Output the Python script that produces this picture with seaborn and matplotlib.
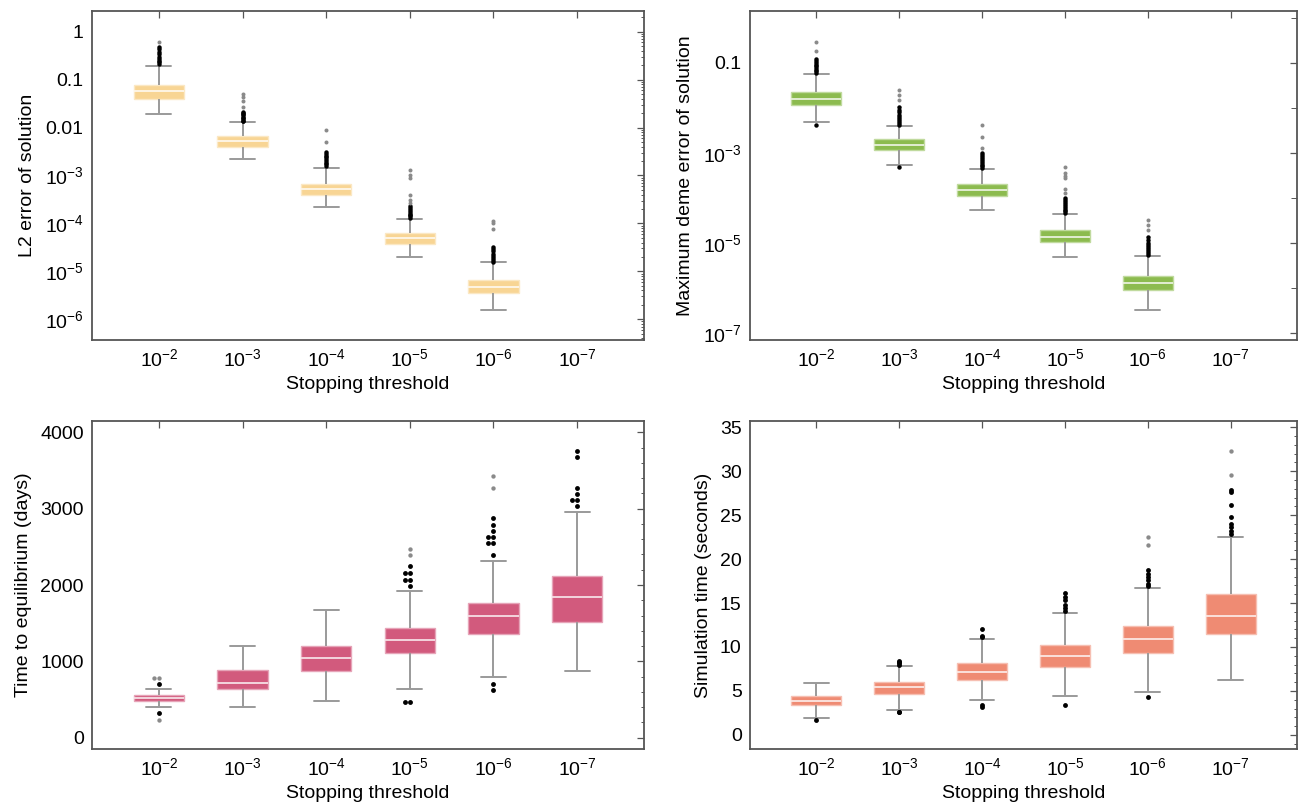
import numpy as np
import pandas as pd
import matplotlib
matplotlib.use("Agg")
import matplotlib.pyplot as plt
import matplotlib.colors as mcolors
from matplotlib.ticker import FixedLocator, FixedFormatter, MultipleLocator, NullLocator, LogLocator, NullFormatter
import seaborn as sns

# ---------------- data ----------------
thresholds = ["$10^{-2}$", "$10^{-3}$", "$10^{-4}$", "$10^{-5}$", "$10^{-6}$", "$10^{-7}$"]

# L2 error of solution (first five thresholds)
l2_wlo = [0.0191, 0.00221, 2.16e-4, 2.0e-5, 1.56e-6]
l2_q1 = [0.039, 0.00398, 3.98e-4, 3.8e-5, 3.5e-6]
l2_med = [0.057, 0.00515, 5.22e-4, 4.9e-5, 4.7e-6]
l2_q3 = [0.077, 0.00666, 6.75e-4, 6.2e-5, 6.5e-6]
l2_whi = [0.195, 0.0129, 1.46e-3, 1.25e-4, 1.54e-5]
l2_near = [
    [0.21, 0.23, 0.25, 0.27, 0.30, 0.34, 0.38, 0.43, 0.47],
    [0.0135, 0.014, 0.015, 0.016, 0.017, 0.018, 0.019, 0.020, 0.0215],
    [1.55e-3, 1.7e-3, 1.85e-3, 2.0e-3, 2.2e-3, 2.4e-3, 2.6e-3, 2.8e-3, 3.1e-3],
    [1.3e-4, 1.4e-4, 1.5e-4, 1.6e-4, 1.75e-4, 1.9e-4, 2.1e-4, 2.3e-4],
    [1.6e-5, 1.75e-5, 1.9e-5, 2.1e-5, 2.3e-5, 2.6e-5, 2.9e-5, 3.3e-5],
]
l2_far = [
    [0.62],
    [0.027, 0.035, 0.044, 0.050],
    [5.1e-3, 9.0e-3],
    [2.7e-4, 3.1e-4, 4.0e-4, 8.7e-4, 1.0e-3, 1.3e-3],
    [7.8e-5, 1.0e-4, 1.12e-4],
]
l2_ticks = [1e-6, 1e-5, 1e-4, 1e-3, 1e-2, 1e-1, 1]
l2_ticklabels = ["$10^{-6}$", "$10^{-5}$", "$10^{-4}$", "$10^{-3}$", "0.01", "0.1", "1"]

# Maximum deme error of solution
md_wlo = [4.8e-3, 5.4e-4, 5.5e-5, 4.8e-6, 3.3e-7]
md_q1 = [0.0118, 1.13e-3, 1.12e-4, 1.06e-5, 9.2e-7]
md_med = [0.016, 1.48e-3, 1.5e-4, 1.37e-5, 1.31e-6]
md_q3 = [0.0228, 2.0e-3, 2.0e-4, 1.92e-5, 1.87e-6]
md_whi = [0.056, 3.9e-3, 4.37e-4, 4.34e-5, 5.2e-6]
md_near = [
    [0.06, 0.065, 0.07, 0.076, 0.083, 0.09, 0.10, 0.11, 0.12, 4.1e-3],
    [4.2e-3, 4.6e-3, 5.0e-3, 5.6e-3, 6.2e-3, 7.0e-3, 8.0e-3, 9.0e-3, 0.0105, 4.9e-4],
    [4.6e-4, 5.0e-4, 5.5e-4, 6.0e-4, 6.6e-4, 7.3e-4, 8.0e-4, 9.0e-4, 1.0e-3],
    [4.6e-5, 5.0e-5, 5.5e-5, 6.0e-5, 6.6e-5, 7.3e-5, 8.0e-5, 9.0e-5, 1.0e-4],
    [5.5e-6, 6.0e-6, 6.6e-6, 7.3e-6, 8.0e-6, 9.0e-6, 1.0e-5, 1.15e-5, 1.35e-5],
]
md_far = [
    [0.187, 0.286],
    [0.0147, 0.019, 0.0245],
    [1.3e-3, 2.2e-3, 4.2e-3],
    [1.26e-4, 1.6e-4, 2.7e-4, 3.0e-4, 3.5e-4, 4.75e-4],
    [1.95e-5, 2.5e-5, 3.2e-5],
]
md_ticks = [1e-7, 1e-5, 1e-3, 1e-1]
md_ticklabels = ["$10^{-7}$", "$10^{-5}$", "$10^{-3}$", "0.1"]
md_minor = [1e-6, 1e-4, 1e-2, 1]

# Time to equilibrium (days)
te_wlo = [397, 397, 480, 642, 799, 878]
te_q1 = [480, 633, 873, 1114, 1354, 1515]
te_med = [524, 720, 1039, 1279, 1598, 1838]
te_q3 = [559, 886, 1201, 1441, 1760, 2122]
te_whi = [638, 1201, 1677, 1921, 2319, 2961]
te_near = [
    [707, 319],
    [],
    [],
    [1991, 2066, 2066, 2162, 2162, 2245, 467, 467],
    [2393, 2550, 2550, 2633, 2633, 2712, 2790, 2882, 703, 624],
    [3035, 3114, 3114, 3197, 3275, 3681, 3760],
]
te_far = [
    [786, 786, 231],
    [],
    [],
    [2397, 2476],
    [3271, 3428],
    [],
]

# Simulation time (seconds)
st_wlo = [1.89, 2.84, 3.97, 4.39, 4.92, 6.24]
st_q1 = [3.37, 4.69, 6.24, 7.76, 9.27, 11.43]
st_med = [3.90, 5.41, 7.11, 8.97, 10.86, 13.47]
st_q3 = [4.46, 6.02, 8.13, 10.25, 12.41, 15.97]
st_whi = [5.94, 7.87, 10.86, 13.89, 16.72, 22.47]
st_near = [
    [1.70],
    [8.0, 8.13, 8.25, 8.4, 2.65, 2.65],
    [11.09, 11.27, 12.07, 3.37, 3.22],
    [14.1, 14.4, 14.8, 15.3, 15.7, 16.16, 3.37],
    [16.95, 17.2, 17.59, 17.97, 18.35, 18.73, 4.35],
    [22.9, 23.16, 23.65, 23.95, 24.78, 26.18, 27.62, 27.81],
]
st_far = [
    [],
    [],
    [],
    [],
    [21.6, 22.5],
    [29.59, 32.27],
]

x_label = "Stopping threshold"
ylabels = ["L2 error of solution", "Maximum deme error of solution",
           "Time to equilibrium (days)", "Simulation time (seconds)"]
colors = ["#F8D594", "#8CBB4F", "#D25A7D", "#EF8B73"]

# ---------------- style ----------------
sns.set_theme(style="white")
plt.rcParams["font.family"] = ["Liberation Sans", "DejaVu Sans"]
plt.rcParams["mathtext.fontset"] = "custom"
plt.rcParams["mathtext.rm"] = "Liberation Sans"
plt.rcParams["mathtext.it"] = "Liberation Sans:italic"
plt.rcParams["mathtext.bf"] = "Liberation Sans:bold"
plt.rcParams["mathtext.default"] = "regular"

FS = 14


def box_frame(wlo, q1, med, q3, whi):
    rows = []
    for lab, a, b, c, d, e in zip(thresholds, wlo, q1, med, q3, whi):
        for v in (a, b, c, d, e):
            rows.append((lab, v))
    return pd.DataFrame(rows, columns=["threshold", "value"])


def outlier_frame(groups):
    rows = [(lab, v) for lab, g in zip(thresholds, groups) for v in g]
    return pd.DataFrame(rows, columns=["threshold", "value"])


def mix(c, t):
    r = np.array(mcolors.to_rgb(c))
    return tuple(r + (1 - r) * t)


def draw(ax, boxes, near, far, color, log, swarm=False, dot=3.2):
    sns.boxplot(data=boxes, x="threshold", y="value", order=thresholds, ax=ax,
                color=color, saturation=1, width=0.6, whis=(0, 100),
                showfliers=False, log_scale=True if log else None,
                linewidth=1.0, linecolor=mix(color, 0.45),
                medianprops=dict(color=mix(color, 0.8), linewidth=1.3),
                whiskerprops=dict(color="#9a9a9a", linewidth=1.4),
                capprops=dict(color="#9a9a9a", linewidth=1.4),
                boxprops=dict(edgecolor=mix(color, 0.45), linewidth=1.0))
    kw = dict(x="threshold", y="value", order=thresholds, ax=ax, linewidth=0, legend=False)
    if swarm:
        if len(near):
            sns.swarmplot(data=near, color="black", size=dot, **kw)
        if len(far):
            sns.swarmplot(data=far, color="#8a8a8a", size=dot * 0.9, **kw)
    else:
        if len(near):
            sns.stripplot(data=near, color="black", size=dot, jitter=False, **kw)
        if len(far):
            sns.stripplot(data=far, color="#8a8a8a", size=dot * 0.9, jitter=False, **kw)


fig = plt.figure(figsize=(12.99, 8.06), dpi=100)
W, H = 1299, 806
def rect(l, r, t, b):
    return [l / W, 1 - b / H, (r - l) / W, (b - t) / H]

ax1 = fig.add_axes(rect(92, 644, 11, 340))
ax2 = fig.add_axes(rect(750, 1297, 11, 340))
ax3 = fig.add_axes(rect(92, 644, 421, 749))
ax4 = fig.add_axes(rect(750, 1297, 421, 749))

draw(ax1, box_frame(l2_wlo, l2_q1, l2_med, l2_q3, l2_whi), outlier_frame(l2_near), outlier_frame(l2_far), colors[0], True, dot=3.2)
draw(ax2, box_frame(md_wlo, md_q1, md_med, md_q3, md_whi), outlier_frame(md_near), outlier_frame(md_far), colors[1], True, dot=3.2)
draw(ax3, box_frame(te_wlo, te_q1, te_med, te_q3, te_whi), outlier_frame(te_near), outlier_frame(te_far), colors[2], False, swarm=True, dot=3.5)
draw(ax4, box_frame(st_wlo, st_q1, st_med, st_q3, st_whi), outlier_frame(st_near), outlier_frame(st_far), colors[3], False, dot=3.5)

ax1.set_ylim(3.7e-7, 2.7)
ax1.yaxis.set_major_locator(FixedLocator(l2_ticks))
ax1.yaxis.set_major_formatter(FixedFormatter(l2_ticklabels))
ax1.yaxis.set_minor_locator(LogLocator(base=10, subs=np.arange(2, 10)))
ax1.yaxis.set_minor_formatter(NullFormatter())

ax2.set_ylim(7.0e-8, 1.41)
ax2.yaxis.set_major_locator(FixedLocator(md_ticks))
ax2.yaxis.set_major_formatter(FixedFormatter(md_ticklabels))
ax2.yaxis.set_minor_locator(FixedLocator(md_minor))
ax2.yaxis.set_minor_formatter(NullFormatter())

ax3.set_ylim(-150, 4150)
ax3.yaxis.set_major_locator(MultipleLocator(1000))
ax3.yaxis.set_minor_locator(MultipleLocator(200))

ax4.set_ylim(-1.6, 35.7)
ax4.yaxis.set_major_locator(MultipleLocator(5))
ax4.yaxis.set_minor_locator(MultipleLocator(1))

for ax, yl in zip([ax1, ax2, ax3, ax4], ylabels):
    ax.set_xlim(-0.8, 5.8)
    ax.xaxis.set_minor_locator(NullLocator())
    ax.set_xlabel(x_label, fontsize=FS, color="black", labelpad=4)
    ax.set_ylabel(yl, fontsize=FS, color="black", labelpad=6)
    ax.tick_params(axis="both", which="both", direction="in", top=True, right=True,
                   color="#555555", labelcolor="black", labelsize=FS)
    ax.tick_params(which="major", length=5, width=0.9, pad=6)
    ax.tick_params(which="minor", length=2.5, width=0.7)
    for s in ax.spines.values():
        s.set_color("#555555")
        s.set_linewidth(1.3)
ax2.tick_params(axis="y", which="minor", length=4)

fig.savefig("out.png", dpi=100)
